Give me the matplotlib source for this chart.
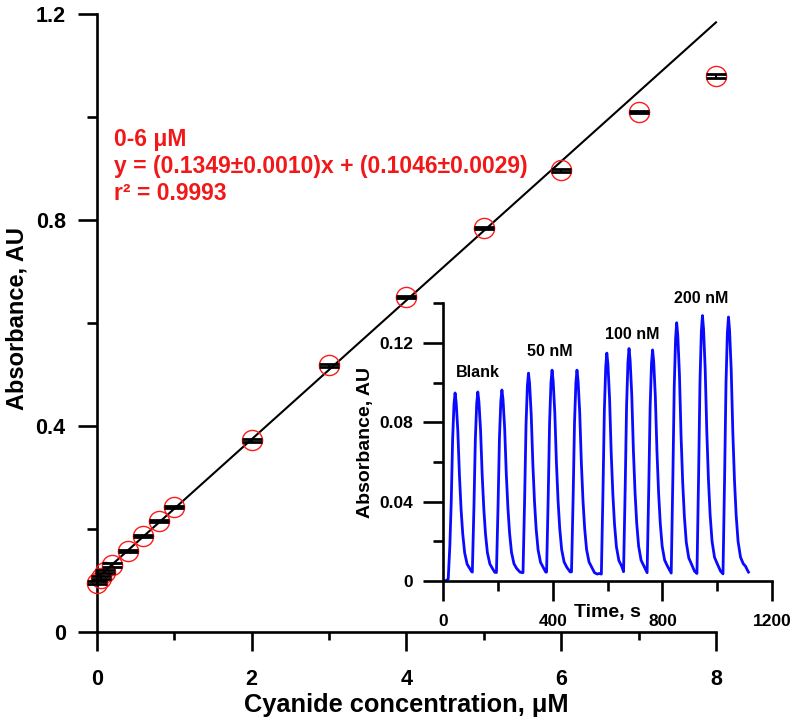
import matplotlib
matplotlib.use("Agg")
import matplotlib.pyplot as plt
from matplotlib.ticker import MultipleLocator, FuncFormatter

plt.rcParams['font.family'] = ['Liberation Sans', 'DejaVu Sans']
plt.rcParams['font.weight'] = 'bold'

# ---- main calibration data ----
conc = [0, 0.05, 0.1, 0.2, 0.4, 0.6, 0.8, 1.0, 2, 3, 4, 5, 6, 7, 8]
absorb = [0.096, 0.105, 0.117, 0.130, 0.158, 0.186, 0.216, 0.242,
          0.372, 0.518, 0.650, 0.784, 0.897, 1.010, 1.080]
absorb_err = [0.003, 0.003, 0.003, 0.003, 0.002, 0.002, 0.002, 0.002,
              0.003, 0.003, 0.002, 0.002, 0.003, 0.002, 0.0045]
fit_slope = 0.1349
fit_intercept = 0.1046
fit_x = [0, 8]

fit_lines = ["0-6 \u03bcM",
             "y = (0.1349\u00b10.0010)x + (0.1046\u00b10.0029)",
             "r\u00b2 = 0.9993"]

# ---- inset FIA trace ----
time_s = [0, 8, 18, 24, 29, 34, 39, 43, 47, 53, 59, 65, 71, 78, 87, 97, 104,
          106, 112, 117, 122, 126, 130, 136, 142, 148, 154, 161, 170, 180, 188,
          194, 200, 205, 210, 214, 218, 224, 230, 236, 242, 249, 258, 268, 280, 289,
          291, 297, 302, 307, 311, 315, 321, 327, 333, 339, 346, 355, 365, 374,
          377, 383, 388, 393, 397, 401, 407, 413, 419, 425, 432, 441, 451, 463,
          468, 474, 479, 484, 488, 492, 498, 504, 510, 516, 523, 532, 542, 552, 562, 570,
          577, 583, 588, 593, 597, 601, 607, 613, 619, 625, 632, 641, 651,
          658, 664, 669, 674, 678, 682, 688, 694, 700, 706, 713, 722, 732,
          744, 750, 755, 760, 764, 768, 774, 780, 786, 792, 799, 808, 818,
          832, 838, 843, 848, 852, 856, 862, 868, 874, 880, 887, 896, 906, 917,
          926, 932, 937, 942, 946, 950, 956, 962, 968, 974, 981, 990, 1000, 1012,
          1021, 1027, 1032, 1037, 1041, 1045, 1051, 1057, 1063, 1069, 1076, 1085,
          1095, 1103, 1110, 1114]
absorb_t = [0.0003, 0.0000, 0.0010, 0.0180, 0.0400, 0.0711, 0.0891, 0.0948, 0.0901,
            0.0758, 0.0531, 0.0360, 0.0237, 0.0142, 0.0085, 0.0062, 0.0047,
            0.0045, 0.0381, 0.0715, 0.0896, 0.0953, 0.0905, 0.0762, 0.0534, 0.0362,
            0.0238, 0.0143, 0.0086, 0.0062, 0.0044,
            0.0043, 0.0385, 0.0722, 0.0905, 0.0963, 0.0915, 0.0770, 0.0539, 0.0366,
            0.0241, 0.0144, 0.0087, 0.0063, 0.0045, 0.0042,
            0.0042, 0.0419, 0.0786, 0.0985, 0.1048, 0.0996, 0.0838, 0.0587, 0.0398,
            0.0262, 0.0157, 0.0094, 0.0068, 0.0045,
            0.0045, 0.0425, 0.0797, 0.0999, 0.1063, 0.1010, 0.0850, 0.0595, 0.0404,
            0.0266, 0.0159, 0.0096, 0.0069, 0.0046,
            0.0046, 0.0425, 0.0797, 0.0999, 0.1063, 0.1010, 0.0850, 0.0595, 0.0404,
            0.0266, 0.0159, 0.0096, 0.0069, 0.0042, 0.0035, 0.0038,
            0.0035, 0.0460, 0.0862, 0.1080, 0.1149, 0.1092, 0.0919, 0.0643, 0.0437,
            0.0287, 0.0172, 0.0103, 0.0075,
            0.0047, 0.0469, 0.0879, 0.1102, 0.1172, 0.1113, 0.0938, 0.0656, 0.0445,
            0.0293, 0.0176, 0.0105, 0.0076,
            0.0042, 0.0466, 0.0874, 0.1095, 0.1165, 0.1107, 0.0932, 0.0652, 0.0443,
            0.0291, 0.0175, 0.0105, 0.0076,
            0.0040, 0.0521, 0.0977, 0.1224, 0.1302, 0.1237, 0.1042, 0.0729, 0.0495,
            0.0326, 0.0195, 0.0117, 0.0085, 0.0050,
            0.0038, 0.0535, 0.1004, 0.1258, 0.1338, 0.1271, 0.1070, 0.0749, 0.0508,
            0.0335, 0.0201, 0.0120, 0.0087, 0.0050,
            0.0036, 0.0532, 0.0998, 0.1251, 0.1331, 0.1264, 0.1065, 0.0745, 0.0506,
            0.0333, 0.0200, 0.0120, 0.0087, 0.0075, 0.0055, 0.0045]

peak_labels = ["Blank", "50 nM", "100 nM", "200 nM"]
peak_label_t = [126, 390, 688, 941]
peak_label_a = [0.105, 0.1155, 0.1245, 0.1422]

fmt = FuncFormatter(lambda v, p: f"{v:g}")

fig = plt.figure(figsize=(7.95, 7.27), dpi=100)

# ---------------- main axes ----------------
ax = fig.add_axes([0.122, 0.1307, 0.7786, 0.85])
ax.set_xlim(0, 8)
ax.set_ylim(0, 1.2)

ax.plot(fit_x, [fit_slope * x + fit_intercept for x in fit_x],
        color='black', lw=1.5, zorder=2, clip_on=False)
ax.plot(conc, absorb, linestyle='none', marker='o', markersize=14.5,
        markerfacecolor='none', markeredgecolor='#ff1a1a', markeredgewidth=1.0,
        zorder=3, clip_on=False)
ax.errorbar(conc, absorb, yerr=absorb_err, fmt='none', ecolor='black',
            elinewidth=1.5, capsize=7, capthick=2.0, zorder=4, clip_on=False)

for s in ['top', 'right']:
    ax.spines[s].set_visible(False)
for s in ['left', 'bottom']:
    ax.spines[s].set_linewidth(1.9)

ax.xaxis.set_major_locator(MultipleLocator(2))
ax.xaxis.set_minor_locator(MultipleLocator(1))
ax.yaxis.set_major_locator(MultipleLocator(0.4))
ax.yaxis.set_minor_locator(MultipleLocator(0.2))
ax.xaxis.set_major_formatter(fmt)
ax.yaxis.set_major_formatter(fmt)
ax.tick_params(axis='x', which='major', direction='out', length=14, width=1.9,
               pad=12.5, labelsize=15.5)
ax.tick_params(axis='x', which='minor', direction='out', length=6, width=1.9)
ax.tick_params(axis='y', which='major', direction='out', length=14, width=1.9,
               pad=8.5, labelsize=15.5)
ax.tick_params(axis='y', which='minor', direction='out', length=7, width=1.9)
for lab in ax.get_xticklabels() + ax.get_yticklabels():
    lab.set_fontweight('bold')

ax.set_xlabel("Cyanide concentration, \u03bcM", fontsize=18.3, fontweight='bold')
ax.xaxis.set_label_coords(0.5, -0.118)
ax.xaxis.label.set_va('center')
ax.set_ylabel("Absorbance, AU", fontsize=17, fontweight='bold')
ax.yaxis.set_label_coords(-0.129, 0.508)
ax.yaxis.label.set_va('center')

red = '#f01818'
text_x = 0.22
for line, yv in zip(fit_lines, [0.943, 0.891, 0.839]):
    ax.text(text_x, yv, line, color=red, fontsize=16.5, fontweight='bold',
            ha='left', va='baseline')

# ---------------- inset ----------------
axi = fig.add_axes([0.5576, 0.2008, 0.4135, 0.382])
axi.patch.set_alpha(0)
axi.set_xlim(0, 1200)
axi.set_ylim(0, 0.14)
axi.plot(time_s, absorb_t, color='#0a0aff', lw=2.0)

for s in ['top', 'right']:
    axi.spines[s].set_visible(False)
for s in ['left', 'bottom']:
    axi.spines[s].set_linewidth(1.9)

axi.xaxis.set_major_locator(MultipleLocator(400))
axi.xaxis.set_minor_locator(MultipleLocator(200))
axi.yaxis.set_major_locator(MultipleLocator(0.04))
axi.yaxis.set_minor_locator(MultipleLocator(0.02))
axi.xaxis.set_major_formatter(fmt)
axi.yaxis.set_major_formatter(fmt)
axi.tick_params(axis='both', which='major', direction='out', length=14.5,
                width=1.9, labelsize=12.5)
axi.tick_params(axis='x', which='major', pad=9.5)
axi.tick_params(axis='y', which='major', pad=7.0)
axi.tick_params(axis='both', which='minor', direction='out', length=7, width=1.9)
for lab in axi.get_xticklabels() + axi.get_yticklabels():
    lab.set_fontweight('bold')

axi.set_xlabel("Time, s", fontsize=14, fontweight='bold')
axi.xaxis.set_label_coords(0.5, -0.114)
axi.xaxis.label.set_va('center')
axi.set_ylabel("Absorbance, AU", fontsize=14, fontweight='bold')
axi.yaxis.set_label_coords(-0.238, 0.5)
axi.yaxis.label.set_va('center')

for lbl, t, a in zip(peak_labels, peak_label_t, peak_label_a):
    axi.text(t, a, lbl, fontsize=11.5, fontweight='bold', ha='center',
             va='center', clip_on=False)

fig.savefig("out.png", dpi=100)
